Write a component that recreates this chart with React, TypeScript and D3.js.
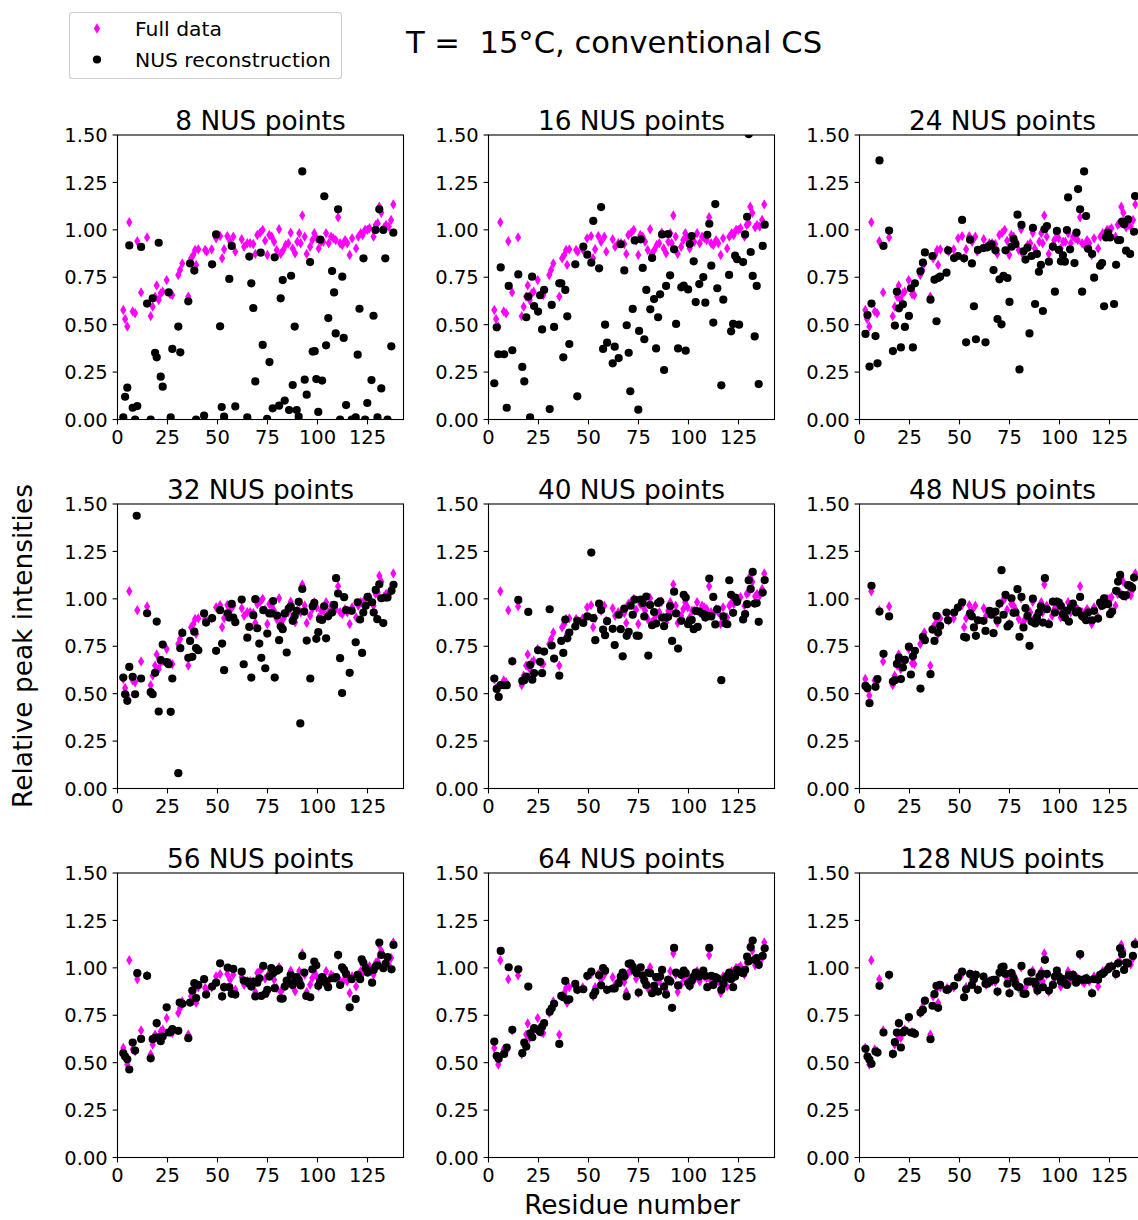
import React from 'react';
import * as d3 from 'd3';

const WIDTH = 1138;
const HEIGHT = 1220;
const FONT = '"DejaVu Sans", Verdana, sans-serif';
const MAGENTA = '#ff00ff';

const mainTitle = 'T =  15°C, conventional CS';
const xAxisLabel = 'Residue number';
const yAxisLabel = 'Relative peak intensities';
const legendLabels = ['Full data', 'NUS reconstruction'];
const panelTitles = [
  '8 NUS points', '16 NUS points', '24 NUS points',
  '32 NUS points', '40 NUS points', '48 NUS points',
  '56 NUS points', '64 NUS points', '128 NUS points',
];
const xTicks = [0, 25, 50, 75, 100, 125];
const yTicks = [0, 0.25, 0.5, 0.75, 1.0, 1.25, 1.5];

// Full-data intensities: [residue, relative intensity]
const fullData: [number, number][] = [
  [2.9, 0.577], [3.8, 0.53], [4.9, 0.49], [5.9, 1.04], [7.6, 0.57], [8.8, 0.56], [9.9, 0.94], [11.8, 0.67],
  [14.8, 0.96], [16.6, 0.545], [17.6, 0.595], [18.8, 0.648], [19.6, 0.707], [20.6, 0.63], [21.6, 0.665],
  [22.6, 0.674], [24.6, 0.735], [26.3, 0.66], [27.4, 0.656], [30.4, 0.762], [31.3, 0.788], [32.4, 0.823],
  [35.4, 0.648], [36.8, 0.85], [37.9, 0.867], [38.8, 0.894], [39.3, 0.815], [40.4, 0.897], [43.8, 0.894],
  [44.6, 0.885], [47.1, 0.897], [49.3, 0.955], [51.3, 0.967], [52.3, 0.85], [53.3, 0.898], [54.9, 0.967],
  [56.3, 0.937], [57.9, 0.964], [58.9, 0.885], [62.1, 0.95], [63.3, 0.911], [64.9, 0.929], [66.3, 0.929],
  [67.9, 0.925], [68.9, 0.873], [69.9, 0.973], [71.3, 0.985], [72.6, 1.0], [73.8, 0.943], [74.9, 0.867],
  [75.9, 0.973], [77.1, 0.964], [78.3, 0.937], [79.6, 0.894], [80.8, 1.003], [81.6, 0.873], [82.9, 0.894],
  [84.1, 0.92], [85.4, 0.929], [86.6, 0.985], [87.6, 0.902], [88.8, 0.876], [89.9, 0.937], [90.9, 0.982],
  [91.6, 0.929], [92.4, 1.076], [93.6, 0.964], [94.6, 0.873], [96.3, 0.911], [97.4, 0.946], [98.4, 0.982],
  [99.6, 0.955], [100.6, 0.902], [101.8, 0.937], [102.9, 0.937], [104.3, 0.982], [105.6, 0.929],
  [106.8, 0.964], [107.9, 0.955], [109.1, 0.946], [110.3, 1.066], [111.3, 0.929], [112.4, 0.92],
  [113.8, 0.946], [114.9, 0.929], [116.1, 0.867], [117.3, 0.955], [119.3, 0.902], [120.4, 0.964],
  [121.6, 0.982], [122.6, 0.973], [123.8, 1.0], [124.9, 1.0], [126.0, 1.008], [128.0, 0.964],
  [129.1, 1.026], [130.1, 1.035], [130.9, 1.122], [131.9, 1.09], [133.3, 1.013], [134.3, 1.026],
  [135.6, 1.017], [136.8, 1.052], [137.9, 1.134],
];

// NUS reconstructions: [residue, relative intensity]
const nus8: [number, number][] = [
  [2.9, 0.011], [3.8, 0.12], [4.9, 0.168], [5.9, 0.918], [7.6, 0.062], [8.8, 0.0], [9.9, 0.071], [11.8, 0.91],
  [14.8, 0.611], [16.6, 0.0], [17.6, 0.639], [18.8, 0.352], [19.6, 0.328], [20.6, 0.932], [21.6, 0.226],
  [22.6, 0.173], [25.6, 0.67], [26.6, 0.011], [27.4, 0.372], [30.4, 0.49], [31.4, 0.354], [35.4, 0.623],
  [36.3, 0.823], [38.4, 0.785], [39.3, 0.0], [43.3, 0.02], [47.3, 0.818], [49.3, 0.976], [51.3, 0.491],
  [52.1, 0.066], [53.3, 0.015], [55.9, 0.741], [57.1, 0.915], [58.9, 0.069], [64.9, 0.011], [65.9, 0.859],
  [66.9, 0.718], [67.9, 0.588], [68.9, 0.201], [71.6, 0.88], [72.6, 0.393], [74.8, 0.004], [76.0, 0.303],
  [77.6, 0.059], [78.6, 0.855], [80.8, 0.073], [81.6, 0.639], [82.6, 0.735], [83.6, 0.1], [85.8, 0.05],
  [86.8, 0.758], [87.6, 0.182], [88.6, 0.49], [89.6, 0.05], [90.6, 0.015], [92.4, 1.308], [93.6, 0.21],
  [94.6, 0.131], [96.3, 0.83], [97.6, 0.358], [98.6, 0.36], [99.4, 0.213], [100.4, 0.04], [101.4, 0.948],
  [102.3, 0.205], [103.4, 1.177], [104.3, 0.391], [105.4, 0.535], [107.3, 0.783], [108.3, 0.67],
  [109.1, 0.454], [110.3, 1.108], [111.3, 0.0], [112.4, 0.753], [113.1, 0.43], [114.3, 0.076], [117.1, 0.0],
  [119.1, 0.011], [120.1, 0.342], [121.0, 0.584], [123.0, 0.85], [123.8, 0.0], [124.9, 0.087], [127.0, 0.208],
  [128.0, 0.547], [129.0, 0.999], [130.0, 0.011], [130.9, 1.108], [131.9, 0.164], [132.9, 0.999],
  [133.9, 0.85], [135.0, 0.0], [136.9, 0.386], [137.9, 0.985],
];

const nus16: [number, number][] = [
  [2.9, 0.191], [4.1, 0.486], [4.9, 0.344], [6.1, 0.802], [7.8, 0.344], [9.1, 0.062], [10.1, 0.704],
  [11.9, 0.365], [14.9, 0.765], [16.9, 0.277], [17.9, 0.201], [18.9, 0.539], [19.9, 0.648], [20.8, 0.011],
  [21.8, 0.753], [22.8, 0.598], [24.8, 0.569], [25.8, 0.655], [26.8, 0.475], [27.8, 0.683], [30.6, 0.055],
  [31.6, 0.604], [32.8, 0.488], [35.4, 0.718], [36.4, 0.718], [37.4, 0.328], [38.4, 0.683], [39.4, 0.544],
  [40.4, 0.398], [43.4, 0.818], [44.4, 0.122], [47.4, 0.911], [49.4, 0.869], [51.4, 0.827], [52.4, 1.047],
  [55.3, 0.797], [56.3, 1.12], [57.3, 0.372], [58.3, 0.5], [59.3, 0.405], [62.1, 0.296], [63.1, 0.384],
  [65.1, 0.324], [66.1, 0.924], [67.9, 0.786], [69.1, 0.497], [70.1, 0.352], [70.9, 0.149], [72.1, 0.583],
  [73.1, 0.944], [74.9, 0.052], [75.3, 0.467], [76.1, 0.95], [77.1, 0.799], [77.9, 0.423], [78.9, 0.683],
  [80.9, 0.581], [81.8, 0.852], [82.8, 0.635], [83.8, 0.375], [84.8, 0.539], [85.8, 0.66], [86.8, 0.976],
  [87.8, 0.261], [88.8, 0.704], [89.8, 0.978], [90.8, 0.76], [92.8, 0.897], [93.8, 0.504], [94.8, 0.375],
  [96.4, 0.697], [97.6, 0.706], [98.6, 0.363], [99.8, 0.686], [100.6, 0.925], [101.6, 0.967], [102.6, 0.834],
  [103.6, 0.619], [105.4, 0.714], [107.4, 0.751], [108.4, 0.616], [109.4, 0.974], [110.4, 1.032],
  [111.4, 0.811], [112.4, 0.511], [113.4, 1.136], [114.4, 0.692], [116.4, 0.18], [117.4, 0.632],
  [120.3, 0.762], [121.3, 0.465], [122.3, 0.504], [123.3, 0.864], [124.3, 0.845], [125.3, 0.5],
  [127.3, 0.83], [128.3, 0.976], [129.3, 1.069], [130.1, 1.505], [131.1, 0.883], [132.1, 0.757],
  [133.1, 0.438], [134.1, 0.704], [135.1, 0.187], [137.1, 0.915], [138.1, 1.027],
];

const nus24: [number, number][] = [
  [3.0, 0.451], [4.0, 0.551], [5.0, 0.279], [6.0, 0.611], [8.0, 0.44], [9.0, 0.296], [10.0, 1.366],
  [12.0, 0.915], [14.8, 0.996], [16.7, 0.361], [17.7, 0.495], [18.7, 0.674], [19.7, 0.586], [20.7, 0.38],
  [21.7, 0.607], [22.7, 0.488], [24.7, 0.546], [25.7, 0.692], [26.7, 0.38], [27.7, 0.718], [30.5, 0.781],
  [31.7, 0.827], [32.7, 0.881], [35.5, 0.632], [36.5, 0.862], [37.5, 0.737], [38.5, 0.518], [39.3, 0.746],
  [40.3, 0.753], [43.5, 0.774], [44.3, 0.892], [47.3, 0.851], [49.2, 0.862], [51.3, 1.052], [52.3, 0.85],
  [53.3, 0.407], [55.3, 0.948], [56.2, 0.823], [57.2, 0.597], [58.2, 0.423], [59.2, 0.894], [62.0, 0.904],
  [63.0, 0.407], [64.0, 0.908], [65.0, 0.915], [66.0, 0.924], [67.0, 0.788], [68.0, 0.892], [69.0, 0.53],
  [70.0, 0.739], [71.0, 0.502], [72.0, 0.757], [73.0, 0.892], [74.0, 0.746], [75.0, 0.62], [76.0, 0.911],
  [77.0, 0.952], [78.0, 0.925], [79.0, 1.08], [80.0, 0.264], [81.0, 1.026], [82.0, 0.887], [83.0, 0.843],
  [84.0, 0.906], [85.0, 0.454], [86.0, 0.862], [86.7, 1.01], [87.8, 0.609], [88.7, 0.873], [89.7, 0.779],
  [90.7, 0.815], [91.7, 0.572], [92.5, 1.003], [93.7, 1.02], [94.7, 0.832], [96.7, 0.911], [97.7, 0.674],
  [98.7, 0.994], [99.7, 0.894], [100.7, 0.834], [101.7, 0.866], [102.7, 0.832], [103.7, 0.999],
  [104.3, 1.171], [105.3, 0.897], [107.5, 0.825], [108.5, 0.985], [109.3, 1.215], [110.3, 1.108],
  [111.3, 0.674], [112.3, 1.308], [113.3, 1.073], [114.3, 0.9], [116.3, 0.873], [117.3, 0.748],
  [120.3, 0.811], [121.3, 0.825], [122.3, 0.597], [123.3, 0.96], [124.3, 0.985], [125.3, 0.96],
  [127.3, 0.609], [128.3, 0.816], [129.3, 0.946], [130.3, 0.946], [131.3, 1.043], [132.3, 1.029],
  [133.3, 0.89], [134.3, 1.055], [135.3, 0.873], [137.3, 0.99], [137.8, 1.178],
];

const nus32: [number, number][] = [
  [2.9, 0.585], [3.8, 0.497], [4.9, 0.462], [5.9, 0.641], [7.6, 0.589], [8.8, 0.497], [9.6, 1.438],
  [11.8, 0.58], [14.8, 0.924], [16.6, 0.508], [17.6, 0.497], [18.8, 0.61], [19.6, 0.88], [20.6, 0.406],
  [21.6, 0.677], [22.6, 0.759], [24.6, 0.666], [25.6, 0.655], [26.6, 0.404], [27.4, 0.58], [30.4, 0.081],
  [31.4, 0.74], [32.4, 0.82], [35.4, 0.689], [36.3, 0.778], [37.4, 0.694], [38.4, 0.827], [39.3, 0.74],
  [40.4, 0.729], [43.3, 0.923], [44.3, 0.875], [47.3, 0.898], [49.3, 0.726], [51.3, 0.94], [52.3, 0.764],
  [53.3, 0.624], [55.1, 0.924], [55.9, 0.901], [57.1, 0.973], [57.9, 0.901], [58.9, 0.877], [62.1, 0.996],
  [63.1, 0.655], [64.9, 0.795], [65.9, 0.852], [66.9, 0.585], [67.9, 0.914], [68.9, 0.998], [69.9, 0.845],
  [70.9, 0.764], [71.9, 0.689], [72.9, 0.94], [73.9, 0.634], [74.9, 0.817], [75.9, 0.923], [77.1, 0.923],
  [77.8, 0.988], [78.6, 0.585], [79.8, 0.912], [80.8, 0.782], [81.6, 0.855], [82.6, 0.84], [83.6, 0.923],
  [84.6, 0.717], [85.6, 0.949], [86.6, 0.961], [87.6, 0.884], [88.6, 0.91], [89.6, 0.937], [90.6, 0.984],
  [91.4, 0.343], [92.4, 1.052], [93.4, 0.933], [94.6, 0.78], [96.4, 0.58], [97.6, 0.961], [98.4, 0.979],
  [99.4, 0.789], [100.4, 0.824], [101.3, 0.893], [102.3, 0.889], [103.3, 0.961], [104.3, 0.792],
  [105.3, 0.908], [107.3, 0.928], [108.3, 0.968], [109.3, 1.109], [110.3, 1.028], [111.3, 0.687],
  [112.3, 0.503], [113.3, 1.009], [114.3, 0.94], [116.1, 0.61], [117.1, 0.937], [119.1, 0.771],
  [120.1, 0.982], [121.3, 0.891], [122.3, 0.715], [122.9, 0.928], [124.1, 0.963], [125.1, 1.01],
  [127.3, 0.982], [128.1, 0.928], [129.1, 1.047], [129.9, 0.893], [130.9, 1.077], [131.9, 1.003],
  [132.9, 0.872], [134.0, 1.007], [135.0, 1.007], [137.0, 1.042], [138.0, 1.074],
];

const nus40: [number, number][] = [
  [2.9, 0.58], [4.1, 0.525], [5.1, 0.483], [6.1, 0.545], [7.8, 0.545], [9.1, 0.545], [11.9, 0.671],
  [14.9, 0.994], [16.9, 0.567], [17.9, 0.571], [18.9, 0.59], [19.9, 0.931], [20.9, 0.652], [21.9, 0.574],
  [22.8, 0.608], [24.8, 0.729], [25.8, 0.668], [26.8, 0.608], [27.8, 0.722], [30.6, 0.945], [31.6, 0.754],
  [32.8, 0.685], [35.4, 0.595], [36.4, 0.778], [37.4, 0.715], [38.4, 0.891], [39.4, 0.792], [40.4, 0.822],
  [43.4, 0.854], [44.4, 0.884], [47.4, 0.873], [49.4, 0.907], [51.4, 1.244], [52.4, 0.898], [53.4, 0.782],
  [55.3, 0.975], [56.3, 0.941], [57.3, 0.838], [58.3, 0.808], [59.3, 0.882], [62.1, 0.842], [63.1, 0.756],
  [65.1, 0.916], [66.1, 0.84], [67.1, 0.697], [67.9, 0.948], [69.1, 0.805], [70.1, 0.826], [71.1, 0.964],
  [72.1, 0.916], [73.1, 0.996], [74.1, 0.806], [75.1, 0.805], [76.1, 0.996], [77.1, 0.978], [77.9, 0.907],
  [78.9, 1.012], [79.9, 0.701], [80.8, 0.968], [81.8, 0.861], [82.8, 0.93], [83.8, 0.87], [84.8, 0.978],
  [85.8, 0.987], [86.8, 0.901], [87.8, 0.856], [88.8, 0.901], [89.8, 0.905], [90.8, 0.962], [91.8, 0.778],
  [92.8, 1.038], [93.8, 0.923], [94.8, 0.738], [96.4, 0.884], [97.6, 1.021], [98.6, 1.007], [99.8, 0.866],
  [100.6, 0.884], [101.6, 0.889], [102.6, 0.84], [103.6, 0.937], [104.6, 0.852], [105.4, 0.933],
  [107.4, 0.919], [108.4, 0.901], [109.4, 0.912], [110.4, 1.107], [111.4, 0.907], [112.4, 1.01],
  [113.4, 0.865], [114.4, 0.945], [116.4, 0.571], [117.4, 0.907], [118.4, 0.87], [119.4, 0.866],
  [120.4, 1.098], [121.3, 1.021], [122.3, 0.926], [123.3, 1.007], [124.3, 0.984], [127.3, 0.891],
  [128.3, 0.919], [129.3, 0.972], [130.1, 1.098], [131.1, 1.052], [132.1, 1.142], [133.1, 0.975],
  [134.1, 0.978], [135.1, 0.879], [137.1, 1.033], [138.1, 1.099],
];

const nus48: [number, number][] = [
  [3.0, 0.541], [4.0, 0.529], [5.0, 0.45], [6.0, 1.069], [8.0, 0.536], [9.0, 0.577], [10.0, 0.933],
  [12.0, 0.71], [14.8, 0.907], [16.7, 0.564], [17.7, 0.571], [18.7, 0.657], [19.7, 0.69], [20.7, 0.577],
  [21.7, 0.638], [22.7, 0.678], [24.7, 0.748], [25.7, 0.601], [26.7, 0.697], [27.7, 0.726], [30.5, 0.527],
  [31.7, 0.8], [32.7, 0.782], [35.5, 0.603], [36.5, 0.838], [37.5, 0.778], [38.5, 0.91], [39.3, 0.822],
  [40.3, 0.857], [43.5, 0.928], [44.3, 0.887], [47.3, 0.928], [49.2, 0.954], [51.3, 0.982], [52.3, 0.8],
  [53.3, 0.796], [55.3, 0.924], [56.2, 0.908], [57.2, 0.849], [58.2, 0.805], [59.2, 0.887], [62.0, 0.884],
  [63.0, 0.831], [65.0, 0.937], [66.0, 0.916], [67.0, 0.819], [68.0, 0.933], [69.0, 0.887], [70.0, 0.975],
  [71.0, 1.151], [72.0, 0.916], [73.0, 1.021], [74.0, 0.854], [75.0, 0.866], [76.0, 1.003], [77.0, 0.926],
  [78.0, 0.928], [79.0, 1.051], [80.0, 0.8], [81.0, 1.01], [82.0, 0.849], [83.0, 0.951], [84.0, 0.91],
  [85.0, 0.752], [86.0, 0.88], [86.7, 1.001], [87.8, 0.87], [88.7, 0.901], [89.7, 0.928], [90.7, 0.961],
  [91.7, 0.875], [92.7, 1.109], [93.7, 0.945], [94.7, 0.866], [96.7, 0.985], [97.7, 0.928], [98.7, 0.985],
  [99.7, 0.98], [100.7, 0.963], [101.7, 0.919], [102.7, 0.901], [103.7, 0.937], [104.7, 0.88],
  [105.7, 0.957], [106.7, 0.975], [108.3, 0.928], [109.3, 0.937], [110.3, 1.01], [111.3, 0.91],
  [112.3, 0.901], [113.3, 0.887], [114.3, 0.928], [116.3, 0.887], [117.3, 0.937], [119.3, 0.896],
  [120.3, 0.98], [121.3, 0.963], [122.3, 1.003], [124.3, 0.972], [125.3, 0.919], [126.3, 0.933],
  [128.3, 1.042], [129.3, 1.091], [130.3, 1.126], [131.3, 1.021], [132.3, 1.014], [133.3, 1.019],
  [134.3, 1.072], [135.3, 1.068], [136.3, 1.059], [137.3, 1.112],
];

const nus56: [number, number][] = [
  [2.9, 0.55], [3.8, 0.532], [4.9, 0.518], [5.9, 0.464], [7.6, 0.606], [8.8, 0.564], [9.9, 0.972],
  [11.8, 0.625], [14.8, 0.958], [16.6, 0.523], [17.6, 0.624], [18.8, 0.631], [19.6, 0.708], [20.6, 0.634],
  [21.6, 0.613], [22.6, 0.638], [24.6, 0.792], [25.6, 0.659], [26.6, 0.663], [27.4, 0.677], [30.4, 0.668],
  [31.1, 0.817], [32.4, 0.81], [35.4, 0.629], [36.3, 0.817], [37.4, 0.88], [38.4, 0.919], [39.3, 0.84],
  [40.4, 0.91], [43.3, 0.94], [44.3, 0.859], [47.3, 0.901], [49.3, 0.922], [51.3, 1.024], [52.3, 0.849],
  [53.3, 0.898], [55.1, 1.001], [55.9, 0.898], [57.1, 0.863], [57.9, 0.994], [58.9, 0.859], [62.1, 0.98],
  [63.1, 0.933], [64.9, 0.928], [65.9, 0.916], [66.9, 0.901], [67.9, 0.928], [68.9, 0.849], [69.9, 0.922],
  [70.9, 0.945], [71.9, 0.852], [72.9, 1.01], [73.9, 0.863], [74.9, 0.884], [75.9, 0.954], [76.9, 0.998],
  [77.8, 0.972], [78.6, 0.893], [79.8, 0.985], [80.8, 0.992], [81.6, 0.838], [82.6, 0.838], [83.6, 0.901],
  [84.6, 0.933], [85.6, 0.919], [86.6, 0.963], [87.6, 0.91], [88.6, 0.926], [89.6, 0.951], [90.6, 0.937],
  [91.6, 0.907], [92.4, 1.063], [93.4, 0.975], [94.4, 0.852], [96.4, 0.845], [97.4, 0.992], [98.4, 1.033],
  [99.4, 1.013], [100.4, 0.905], [101.3, 0.928], [102.3, 0.951], [103.3, 0.937], [104.3, 0.919],
  [105.3, 0.898], [107.3, 0.945], [108.3, 0.945], [109.3, 0.951], [110.3, 1.068], [111.3, 0.91],
  [112.3, 1.003], [113.3, 0.989], [114.3, 0.968], [116.1, 0.792], [117.1, 0.94], [119.1, 0.836],
  [120.1, 0.963], [121.3, 0.94], [122.1, 1.045], [122.9, 1.028], [124.1, 0.998], [125.1, 0.975],
  [127.3, 0.922], [128.1, 0.989], [129.1, 1.007], [129.9, 1.015], [130.9, 1.133], [131.9, 1.068],
  [132.9, 0.998], [134.0, 1.021], [135.0, 1.056], [137.0, 0.992], [138.0, 1.121],
];

const nus64: [number, number][] = [
  [2.9, 0.611], [4.1, 0.536], [5.1, 0.52], [6.1, 1.089], [7.8, 0.546], [9.1, 0.58], [10.1, 1.003],
  [11.9, 0.673], [14.9, 0.992], [16.9, 0.55], [17.9, 0.606], [18.9, 0.585], [19.9, 0.901], [20.9, 0.655],
  [21.9, 0.634], [22.8, 0.682], [24.8, 0.673], [25.8, 0.662], [26.8, 0.69], [27.8, 0.708], [30.6, 0.769],
  [31.6, 0.787], [32.8, 0.81], [35.4, 0.599], [36.4, 0.852], [37.4, 0.845], [38.4, 0.931], [39.4, 0.831],
  [40.4, 0.834], [43.4, 0.915], [44.4, 0.884], [47.4, 0.887], [49.4, 0.958], [51.4, 0.98], [52.4, 0.856],
  [53.4, 0.875], [55.3, 0.961], [56.3, 0.908], [57.3, 0.998], [58.3, 0.985], [59.3, 0.884], [62.1, 0.891],
  [63.1, 0.891], [65.1, 0.919], [66.1, 0.954], [67.1, 0.975], [67.9, 0.954], [69.1, 0.849], [70.1, 1.021],
  [71.1, 1.024], [72.1, 1.007], [73.1, 0.985], [74.1, 0.972], [75.1, 0.87], [76.1, 1.003], [77.1, 0.958],
  [77.9, 0.933], [78.9, 0.91], [79.9, 0.975], [80.8, 0.972], [81.8, 0.866], [82.8, 0.905], [83.8, 0.951],
  [84.8, 0.875], [85.8, 0.954], [86.8, 0.989], [87.8, 0.901], [88.8, 0.859], [89.8, 0.937], [90.8, 0.928],
  [91.8, 0.789], [92.8, 1.105], [93.8, 0.975], [94.8, 0.907], [96.4, 0.963], [97.6, 0.985], [98.6, 0.972],
  [99.8, 0.919], [100.6, 0.905], [101.6, 0.933], [102.6, 0.954], [103.6, 0.975], [104.6, 0.963],
  [105.4, 0.954], [107.4, 0.985], [108.4, 0.958], [109.4, 0.898], [110.4, 1.105], [111.4, 0.958],
  [112.4, 0.91], [113.4, 0.951], [114.4, 0.944], [116.4, 0.884], [117.4, 0.915], [118.4, 0.945],
  [119.4, 0.958], [120.4, 0.975], [121.3, 0.94], [122.3, 0.898], [123.3, 0.954], [124.3, 0.989],
  [125.3, 0.978], [127.3, 0.972], [128.3, 0.989], [129.3, 1.059], [130.1, 1.035], [131.1, 1.108],
  [132.1, 1.144], [133.1, 1.042], [134.1, 1.051], [135.1, 1.016], [137.1, 1.063], [138.1, 1.103],
];

const nus128: [number, number][] = [
  [3.0, 0.573], [4.0, 0.532], [5.0, 0.515], [6.0, 0.494], [8.0, 0.559], [9.0, 0.553], [10.0, 0.905],
  [12.0, 0.659], [14.8, 0.963], [16.7, 0.546], [17.7, 0.608], [18.7, 0.659], [19.7, 0.708], [20.7, 0.58],
  [21.7, 0.659], [22.7, 0.669], [24.7, 0.74], [25.7, 0.659], [26.7, 0.659], [27.7, 0.652], [30.5, 0.764],
  [31.7, 0.778], [32.7, 0.827], [35.5, 0.624], [36.5, 0.8], [37.5, 0.861], [38.5, 0.905], [39.3, 0.789],
  [40.3, 0.91], [43.5, 0.884], [44.3, 0.887], [47.3, 0.905], [49.2, 0.949], [51.3, 0.98], [52.3, 0.845],
  [53.3, 0.887], [55.3, 0.968], [56.2, 0.91], [57.2, 0.94], [58.2, 0.963], [59.2, 0.884], [62.0, 0.954],
  [63.0, 0.916], [64.0, 0.916], [65.0, 0.928], [66.0, 0.933], [67.0, 0.937], [68.0, 0.937], [69.0, 0.875],
  [70.0, 0.975], [71.0, 1.003], [72.0, 1.007], [73.0, 0.968], [74.0, 0.916], [75.0, 0.866], [76.0, 0.972],
  [77.0, 0.945], [78.0, 0.916], [79.0, 0.901], [80.0, 0.898], [81.0, 1.01], [82.0, 0.863], [83.0, 0.863],
  [84.0, 0.928], [85.0, 0.928], [86.0, 0.975], [87.0, 0.928], [88.0, 0.916], [89.0, 0.88], [90.0, 0.954],
  [91.0, 0.968], [91.7, 0.898], [92.7, 1.042], [93.7, 0.968], [94.7, 0.88], [96.7, 0.91], [97.7, 0.954],
  [98.7, 0.985], [99.7, 0.954], [100.7, 0.928], [101.7, 0.94], [102.7, 0.919], [103.7, 0.91],
  [104.7, 0.963], [105.7, 0.954], [106.7, 0.963], [108.3, 0.922], [109.3, 0.94], [110.3, 1.072],
  [111.3, 0.937], [112.3, 0.937], [113.3, 0.945], [114.3, 0.937], [116.3, 0.866], [117.3, 0.94],
  [119.3, 0.937], [120.3, 0.963], [121.3, 0.968], [122.3, 0.975], [124.3, 0.992], [125.3, 1.007],
  [126.3, 1.007], [128.3, 0.968], [129.3, 1.024], [130.3, 1.103], [131.3, 1.072], [132.3, 0.989],
  [133.3, 1.028], [134.3, 1.024], [136.7, 1.063], [137.7, 1.124],
];

const nusSeries = [nus8, nus16, nus24, nus32, nus40, nus48, nus56, nus64, nus128];

// Grid geometry
const colLefts = [117.5, 488.5, 859.5];
const rowTops = [135, 504, 873];
const plotW = 286;
const plotH = 284.5;
const xDomain: [number, number] = [0, 143];
const yDomain: [number, number] = [0, 1.5];

const TICK_LEN = 4.9;
const TICK_FONT = 19.5;
const TITLE_FONT = 26.4;
const DOT_R = 4.1;

const diamondPath = (cx: number, cy: number, w = 3.1, h = 5.2) =>
  `M${cx},${cy - h}L${cx + w},${cy}L${cx},${cy + h}L${cx - w},${cy}Z`;

function Panel({ index }: { index: number }) {
  const col = index % 3;
  const row = Math.floor(index / 3);
  const left = colLefts[col];
  const top = rowTops[row];
  const x = d3.scaleLinear().domain(xDomain).range([0, plotW]);
  const y = d3.scaleLinear().domain(yDomain).range([plotH, 0]);
  const fmtY = d3.format('.2f');
  const clipId = `panel-clip-${index}`;
  const nus = nusSeries[index];

  return (
    <g transform={`translate(${left},${top})`}>
      <defs>
        <clipPath id={clipId}>
          <rect x={0} y={0} width={plotW} height={plotH} />
        </clipPath>
      </defs>
      <g clipPath={`url(#${clipId})`}>
        {fullData.map(([r, v], i) => (
          <path key={`f${i}`} d={diamondPath(x(r), y(v))} fill={MAGENTA} />
        ))}
        {nus.map(([r, v], i) => (
          <circle key={`n${i}`} cx={x(r)} cy={y(v)} r={DOT_R} fill="#000" />
        ))}
      </g>
      <rect x={0} y={0} width={plotW} height={plotH} fill="none" stroke="#000" strokeWidth={1.1} />
      {yTicks.map((t) => (
        <g key={`y${t}`} transform={`translate(0,${y(t)})`}>
          <line x1={-TICK_LEN} x2={0} stroke="#000" strokeWidth={1.1} />
          <text x={-TICK_LEN - 4.9} y={7.1} textAnchor="end" fontSize={TICK_FONT} fontFamily={FONT} fill="#000">
            {fmtY(t)}
          </text>
        </g>
      ))}
      {xTicks.map((t) => (
        <g key={`x${t}`} transform={`translate(${x(t)},${plotH})`}>
          <line y1={0} y2={TICK_LEN} stroke="#000" strokeWidth={1.1} />
          <text y={24.5} textAnchor="middle" fontSize={TICK_FONT} fontFamily={FONT} fill="#000">
            {t}
          </text>
        </g>
      ))}
      <text x={plotW / 2} y={-5.5} textAnchor="middle" fontSize={TITLE_FONT} fontFamily={FONT} fill="#000">
        {panelTitles[index]}
      </text>
    </g>
  );
}

export default function App() {
  return (
    <svg
      width={WIDTH}
      height={HEIGHT}
      viewBox={`0 0 ${WIDTH} ${HEIGHT}`}
      style={{ position: 'absolute', left: 0, top: 0, display: 'block', background: '#fff' }}
    >
      <rect x={0} y={0} width={WIDTH} height={HEIGHT} fill="#fff" />
      {panelTitles.map((_, i) => (
        <Panel key={i} index={i} />
      ))}

      {/* figure title */}
      <text x={614} y={53} textAnchor="middle" fontSize={30.6} fontFamily={FONT} fill="#000" style={{ whiteSpace: 'pre' }}>
        {mainTitle}
      </text>

      {/* legend */}
      <g>
        <rect x={69.5} y={12.5} width={272} height={66} rx={3} fill="#fff" fillOpacity={0.8} stroke="#cccccc" strokeWidth={1.1} />
        <path d={diamondPath(97, 28.5)} fill={MAGENTA} />
        <text x={135} y={36} fontSize={20.3} fontFamily={FONT} fill="#000">{legendLabels[0]}</text>
        <circle cx={97} cy={59.5} r={DOT_R} fill="#000" />
        <text x={135} y={66.5} fontSize={20.3} fontFamily={FONT} fill="#000">{legendLabels[1]}</text>
      </g>

      {/* shared axis labels */}
      <text x={632} y={1214} textAnchor="middle" fontSize={TITLE_FONT} fontFamily={FONT} fill="#000">
        {xAxisLabel}
      </text>
      <text
        transform="translate(31.7,646) rotate(-90)"
        textAnchor="middle"
        fontSize={TITLE_FONT}
        fontFamily={FONT}
        fill="#000"
      >
        {yAxisLabel}
      </text>
    </svg>
  );
}
